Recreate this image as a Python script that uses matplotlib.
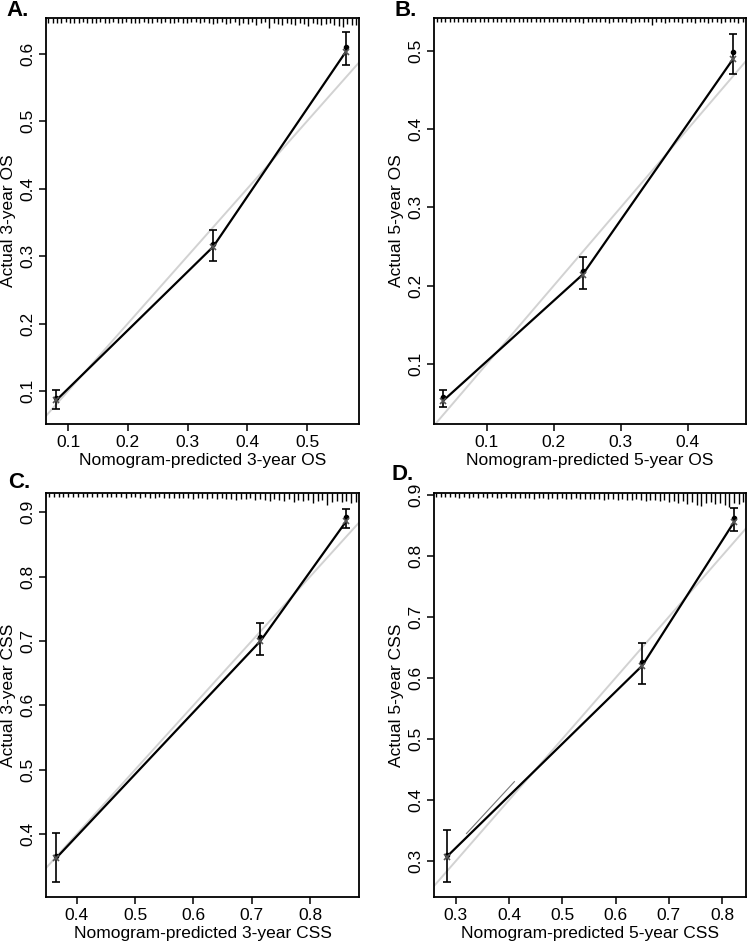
import numpy as np
import matplotlib
matplotlib.use("Agg")
import matplotlib.pyplot as plt

plt.rcParams["font.family"] = ["Liberation Sans", "DejaVu Sans"]

W, H = 749, 943

# ── Data ─────────────────────────────────────────────────────────────────────
labels = ["A.", "B.", "C.", "D."]
xlabels = ["Nomogram-predicted 3-year OS", "Nomogram-predicted 5-year OS",
           "Nomogram-predicted 3-year CSS", "Nomogram-predicted 5-year CSS"]
ylabels = ["Actual 3-year OS", "Actual 5-year OS",
           "Actual 3-year CSS", "Actual 5-year CSS"]

pred_A = [0.080, 0.343, 0.565]
obs_A = [0.090, 0.318, 0.610]
corr_A = [0.086, 0.314, 0.603]
lo_A = [0.073, 0.293, 0.583]
hi_A = [0.101, 0.338, 0.632]

pred_B = [0.035, 0.243, 0.468]
obs_B = [0.057, 0.219, 0.498]
corr_B = [0.053, 0.214, 0.490]
lo_B = [0.045, 0.195, 0.470]
hi_B = [0.067, 0.237, 0.522]

pred_C = [0.365, 0.715, 0.862]
obs_C = [0.366, 0.706, 0.893]
corr_C = [0.363, 0.700, 0.886]
lo_C = [0.325, 0.678, 0.875]
hi_C = [0.402, 0.728, 0.905]

pred_D = [0.283, 0.650, 0.823]
obs_D = [0.310, 0.626, 0.862]
corr_D = [0.307, 0.620, 0.856]
lo_D = [0.265, 0.590, 0.840]
hi_D = [0.350, 0.658, 0.878]

# rug (frequency of predictions) tick heights in pixels, evenly spread bins
rug_A = [3, 3, 3, 3, 2, 3, 3, 3, 2, 3, 3, 3, 2, 3, 3, 2, 3, 3, 2, 3, 3, 3, 2, 3,
         3, 2, 3, 2, 3, 3, 2, 3, 3, 2, 2, 3, 2, 3, 4, 3, 2, 4, 3, 2, 5, 3, 4, 2,
         5, 3, 2, 8, 3, 4, 5, 3, 4, 5, 3, 4, 6, 3, 4, 5, 4, 3, 5, 6, 7, 4, 5, 5]
rug_B = [2, 2, 2, 2, 2, 2, 2, 2, 2, 2, 2, 2, 2, 2, 2, 2, 2, 2, 2, 2, 2, 2, 2, 2,
         2, 2, 2, 2, 2, 2, 2, 2, 2, 2, 3, 2, 2, 2, 2, 2, 3, 2, 2, 2, 2, 3, 2, 2,
         2, 2, 5, 2, 2, 3, 2, 2, 2, 3, 2, 2, 3, 2, 2, 3, 2, 2, 3, 2, 2, 2, 3, 2]
rug_C = [2, 2, 2, 2, 2, 2, 2, 2, 2, 2, 2, 2, 2, 2, 2, 2, 3, 2, 2, 3, 2, 3, 3, 2,
         3, 3, 3, 3, 3, 3, 4, 3, 3, 4, 3, 4, 3, 4, 4, 5, 4, 4, 3, 5, 4, 5, 6, 4,
         5, 6, 4, 7, 5, 6, 5, 8, 6, 5, 10, 7, 6, 7, 6, 8, 7]
rug_D = [2, 2, 2, 2, 2, 3, 2, 3, 2, 3, 2, 3, 2, 3, 3, 2, 3, 3, 3, 3, 3, 4, 3, 3,
         4, 3, 4, 3, 4, 4, 3, 4, 4, 4, 4, 4, 5, 4, 4, 5, 4, 5, 5, 4, 5, 6, 5, 5,
         6, 5, 7, 6, 8, 6, 9, 7, 10, 11, 8, 7, 9, 8, 10, 12, 8, 9, 7]

panels = [
    dict(pred=pred_A, obs=obs_A, corr=corr_A, lo=lo_A, hi=hi_A, rug=rug_A,
         box=(46, 359, 18, 424), xlim=(0.063, 0.587), ylim=(0.051, 0.653),
         xt=[0.1, 0.2, 0.3, 0.4, 0.5], yt=[0.1, 0.2, 0.3, 0.4, 0.5, 0.6],
         rugx=(0.067, 0.582), lab=(6, 11)),
    dict(pred=pred_B, obs=obs_B, corr=corr_B, lo=lo_B, hi=hi_B, rug=rug_B,
         box=(434, 746, 18, 424), xlim=(0.021, 0.487), ylim=(0.023, 0.542),
         xt=[0.1, 0.2, 0.3, 0.4], yt=[0.1, 0.2, 0.3, 0.4, 0.5],
         rugx=(0.025, 0.482), lab=(394, 11)),
    dict(pred=pred_C, obs=obs_C, corr=corr_C, lo=lo_C, hi=hi_C, rug=rug_C,
         box=(46, 359, 493, 897), xlim=(0.347, 0.884), ylim=(0.302, 0.930),
         xt=[0.4, 0.5, 0.6, 0.7, 0.8], yt=[0.4, 0.5, 0.6, 0.7, 0.8, 0.9],
         rugx=(0.352, 0.879), lab=(8, 483)),
    dict(pred=pred_D, obs=obs_D, corr=corr_D, lo=lo_D, hi=hi_D, rug=rug_D,
         box=(434, 746, 493, 897), xlim=(0.259, 0.845), ylim=(0.241, 0.903),
         xt=[0.3, 0.4, 0.5, 0.6, 0.7, 0.8], yt=[0.3, 0.4, 0.5, 0.6, 0.7, 0.8, 0.9],
         rugx=(0.263, 0.840), lab=(392, 474)),
]

fig = plt.figure(figsize=(W / 100, H / 100), dpi=100)

for i, p in enumerate(panels):
    l, r, t, b = p["box"]
    ax = fig.add_axes([l / W, 1 - b / H, (r - l) / W, (b - t) / H])
    ax.set_xlim(*p["xlim"])
    ax.set_ylim(*p["ylim"])

    # ideal line
    lo_v = min(p["xlim"][0], p["ylim"][0])
    hi_v = max(p["xlim"][1], p["ylim"][1])
    ax.plot([lo_v, hi_v], [lo_v, hi_v], color="#d2d2d2", lw=1.4, zorder=1)

    # calibration line
    ax.plot(p["pred"], p["corr"], color="black", lw=1.6, zorder=3)
    ax.errorbar(p["pred"], p["obs"],
                yerr=[np.array(p["obs"]) - np.array(p["lo"]),
                      np.array(p["hi"]) - np.array(p["obs"])],
                fmt="none", ecolor="black", elinewidth=1.2, capsize=3,
                capthick=1.2, zorder=4)
    ax.plot(p["pred"], p["obs"], "o", color="black", ms=3, zorder=5)
    ax.plot(p["pred"], p["corr"], "x", color="#555555", ms=5, mew=1.2, zorder=5)

    if i == 3:
        ax.plot([0.32, 0.41], [0.345, 0.43], color="#777777", lw=0.8, zorder=2)

    # rug along the top (extra 2 px so ticks clear the spine)
    ah = b - t
    rx = np.linspace(p["rugx"][0], p["rugx"][1], len(p["rug"]))
    hts = (np.array(p["rug"]) + 2) / ah
    ax.vlines(rx, 1 - hts, 1, transform=ax.get_xaxis_transform(),
              color="black", lw=1.0, zorder=2)

    ax.set_xticks(p["xt"])
    ax.set_yticks(p["yt"])
    ax.set_xticklabels([f"{v:g}" for v in p["xt"]], fontsize=12.5)
    ax.set_yticklabels([f"{v:g}" for v in p["yt"]], fontsize=12.5,
                       rotation=90, va="center")
    ax.tick_params(direction="out", length=5, width=1.1, pad=3)
    for s in ax.spines.values():
        s.set_linewidth(1.3)
    ax.set_xlabel(xlabels[i], fontsize=12.5, labelpad=2)
    ax.set_ylabel(ylabels[i], fontsize=12.5, labelpad=3)

    fig.text(p["lab"][0] / W, 1 - p["lab"][1] / H, labels[i], fontsize=16,
             fontweight="bold", va="center", ha="left")

fig.savefig("out.png", dpi=100)
